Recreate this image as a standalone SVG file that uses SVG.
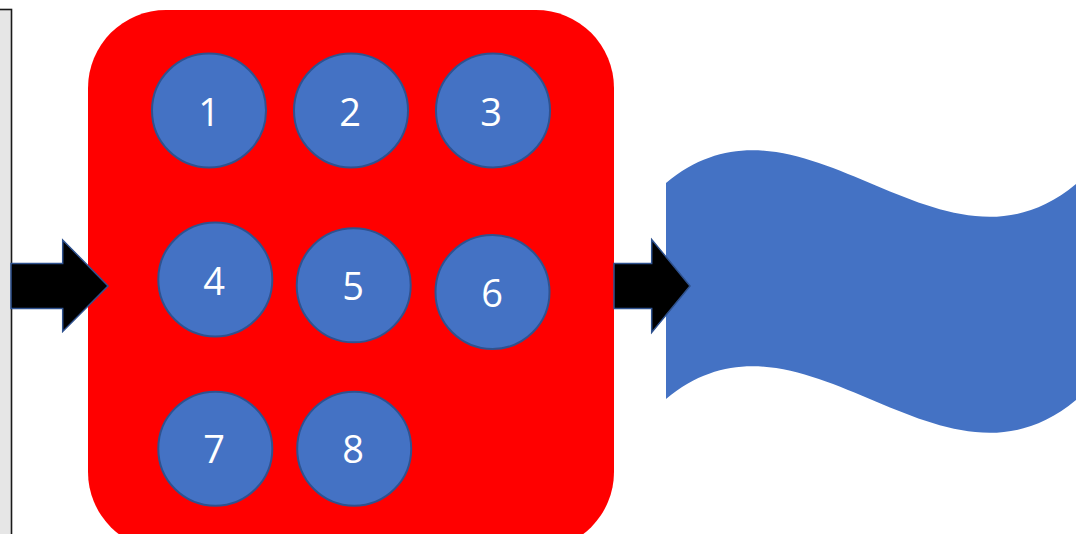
<svg xmlns="http://www.w3.org/2000/svg" width="1081" height="534" viewBox="0 0 1081 534">
  <style>
    .ball { fill: #4472c4; stroke: #2f528f; stroke-width: 2; }
    .num { fill: #ffffff; font-family: "Open Sans", "Liberation Sans", sans-serif; font-size: 38px; text-anchor: middle; }
    .flow { fill: #000000; stroke: #2f528f; stroke-width: 1.5; stroke-linejoin: miter; }
  </style>

  <rect width="1081" height="534" fill="#ffffff"/>

  <!-- grey panel on the left edge -->
  <g id="panel">
    <rect x="-20" y="9.5" width="31.5" height="540" fill="#e6e6e6" stroke="#1a1a1a" stroke-width="1.6"/>
  </g>

  <!-- red container -->
  <g id="container">
    <rect x="88" y="10" width="526" height="540" rx="78" ry="78" fill="#ff0000"/>
  </g>

  <!-- blue wave -->
  <g id="wave">
    <path d="M666,183 C802.7,69 939.3,298 1076,184 L1076,400 C939.3,514 802.7,285 666,399 Z" fill="#4472c4"/>
  </g>

  <g id="node-1"><circle class="ball" cx="209" cy="110.5" r="57"/><text class="num" x="209" y="126">1</text></g>
  <g id="node-2"><circle class="ball" cx="351" cy="110.5" r="57"/><text class="num" x="350" y="126">2</text></g>
  <g id="node-3"><circle class="ball" cx="493" cy="110.5" r="57"/><text class="num" x="491" y="126">3</text></g>
  <g id="node-4"><circle class="ball" cx="215.3" cy="279.5" r="57"/><text class="num" x="214" y="295">4</text></g>
  <g id="node-5"><circle class="ball" cx="353.7" cy="285.3" r="57"/><text class="num" x="353" y="299.5">5</text></g>
  <g id="node-6"><circle class="ball" cx="492.5" cy="292" r="57"/><text class="num" x="492" y="307">6</text></g>
  <g id="node-7"><circle class="ball" cx="215.3" cy="448.7" r="57"/><text class="num" x="214" y="463">7</text></g>
  <g id="node-8"><circle class="ball" cx="354.2" cy="448.7" r="57"/><text class="num" x="353" y="463">8</text></g>

  <!-- block arrows -->
  <g id="connectors">
    <path class="flow" d="M11,263.5 L62.7,263.5 L62.7,240 L108,286 L62.7,331.5 L62.7,308.5 L11,308.5 Z"/>
    <path class="flow" d="M614,263.5 L651.7,263.5 L651.7,239.5 L690,286 L651.7,332.5 L651.7,308.5 L614,308.5 Z"/>
  </g>
</svg>
